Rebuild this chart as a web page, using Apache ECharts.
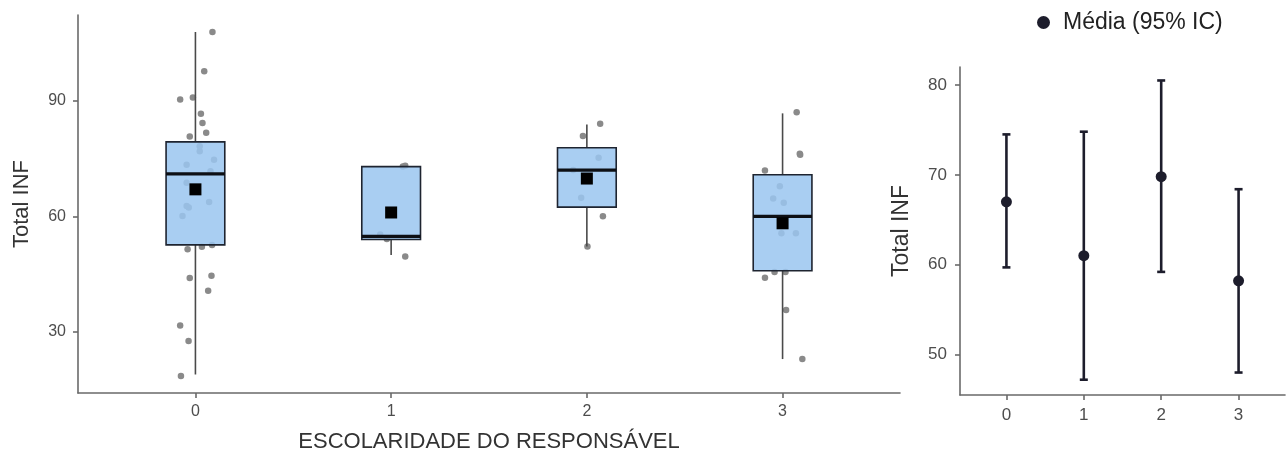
<!DOCTYPE html>
<html>
<head>
<meta charset="utf-8">
<script src="https://cdn.jsdelivr.net/npm/echarts@6/dist/echarts.min.js"></script>
<style>
html,body{margin:0;padding:0;background:#fff;}
#chart{width:1287px;height:458px;}
</style>
</head>
<body>
<div id="chart"></div>
<script>
// ---- data ----
const categories = [0, 1, 2, 3];
const categoryLabels = ['0', '1', '2', '3'];
const boxMin    = [19.0, 50.0, 52.2, 23.0];
const boxQ1     = [52.6, 54.0, 62.4, 45.9];
const boxMedian = [71.0, 54.8, 72.0, 60.0];
const boxQ3     = [79.3, 72.9, 77.8, 70.8];
const boxMax    = [107.8, 72.9, 83.8, 86.7];
const means     = [67.0, 61.0, 69.8, 58.2];
const ciLow     = [59.7, 47.2, 59.2, 48.0];
const ciHigh    = [74.5, 74.8, 80.5, 68.4];
// jittered raw observations: group, value, horizontal jitter (category units)
const jitterGroup  = [0,0,0,0,0,0,0,0,0,0,0,0,0,0,0,0,0,0,0,0,0,0,0,0,0,0,0,
                      1,1,1,1,1,
                      2,2,2,2,2,2,2,
                      3,3,3,3,3,3,3,3,3,3,3,3,3,3];
const jitterValue  = [107.8,97.6,90.3,90.8,86.6,84.2,81.7,80.7,78.2,76.9,73.4,74.7,71.7,68.7,62.7,63.7,60.1,62.3,51.5,52.1,52.6,44.0,44.6,40.7,31.7,27.7,18.6,
                      73.1,72.9,55.3,54.1,49.6,
                      84.0,80.8,75.2,72.0,64.8,60.0,52.2,
                      87.0,76.0,76.2,71.9,67.8,64.6,63.5,55.6,55.6,44.1,45.6,45.6,35.7,23.0];
const jitterOffset = [0.087,0.045,-0.078,-0.013,0.028,0.036,0.055,-0.029,0.022,0.022,-0.045,0.095,0.077,-0.045,-0.045,0.070,-0.066,-0.034,-0.040,0.033,0.085,-0.029,0.082,0.065,-0.078,-0.035,-0.074,
                      0.072,0.060,-0.056,-0.022,0.072,
                      0.068,-0.020,0.060,-0.070,-0.029,0.082,0.003,
                      0.072,0.090,0.088,-0.090,-0.014,-0.048,0.006,-0.006,0.068,-0.090,-0.041,0.015,0.018,0.101];
const leftTicks  = [30, 60, 90];
const rightTicks = [50, 60, 70, 80];

// ---- build series data ----
const boxData = categories.map((c, i) => [c, boxMin[i], boxQ1[i], boxMedian[i], boxQ3[i], boxMax[i]]);
const jitterData = jitterValue.map((v, i) => [jitterGroup[i] + jitterOffset[i], v]);
const meanDataLeft = categories.map((c, i) => [c, means[i]]);
const ciData = categories.map((c, i) => [c, ciLow[i], ciHigh[i]]);
const meanDataRight = categories.map((c, i) => [c, means[i]]);

const FONT = 'Liberation Sans, Arial, sans-serif';
const axisCol = '#6a6a6a';
const halfBox = 0.15;

function renderBox(params, api) {
  const x = api.value(0);
  const pMin = api.coord([x, api.value(1)]);
  const pQ1L = api.coord([x - halfBox, api.value(2)]);
  const pQ3R = api.coord([x + halfBox, api.value(4)]);
  const pMedL = api.coord([x - halfBox, api.value(3)]);
  const pMedR = api.coord([x + halfBox, api.value(3)]);
  const pQ1 = api.coord([x, api.value(2)]);
  const pQ3 = api.coord([x, api.value(4)]);
  const pMax = api.coord([x, api.value(5)]);
  const wStyle = { stroke: '#4a4a4a', lineWidth: 1.6 };
  return {
    type: 'group',
    children: [
      { type: 'line', shape: { x1: pMax[0], y1: pMax[1], x2: pQ3[0], y2: pQ3[1] }, style: wStyle },
      { type: 'line', shape: { x1: pQ1[0], y1: pQ1[1], x2: pMin[0], y2: pMin[1] }, style: wStyle },
      { type: 'rect',
        shape: { x: pQ1L[0], y: pQ3R[1], width: pQ3R[0] - pQ1L[0], height: pQ1L[1] - pQ3R[1] },
        style: { fill: 'rgba(155,198,240,0.86)', stroke: '#1e2430', lineWidth: 1.6 } },
      { type: 'line', shape: { x1: pMedL[0], y1: pMedL[1], x2: pMedR[0], y2: pMedR[1] },
        style: { stroke: '#0d0f14', lineWidth: 3.2 } }
    ]
  };
}

function renderCI(params, api) {
  const x = api.value(0);
  const lo = api.coord([x, api.value(1)]);
  const hi = api.coord([x, api.value(2)]);
  const cap = 4;
  const st = { stroke: '#1d1d2c', lineWidth: 2.6 };
  return {
    type: 'group',
    children: [
      { type: 'line', shape: { x1: lo[0], y1: lo[1], x2: hi[0], y2: hi[1] }, style: st },
      { type: 'line', shape: { x1: lo[0] - cap, y1: lo[1], x2: lo[0] + cap, y2: lo[1] }, style: st },
      { type: 'line', shape: { x1: hi[0] - cap, y1: hi[1], x2: hi[0] + cap, y2: hi[1] }, style: st }
    ]
  };
}

const chart = echarts.init(document.getElementById('chart'), null, { renderer: 'canvas' });
chart.setOption({
  backgroundColor: '#ffffff',
  animation: false,
  textStyle: { fontFamily: FONT },
  legend: {
    data: ['Média (95% IC)'],
    left: 1032, top: 6,
    icon: 'circle', itemWidth: 13, itemHeight: 13,
    itemStyle: { opacity: 1 },
    textStyle: { fontSize: 23, color: '#222', fontFamily: FONT, padding: [0, 0, 0, 8] }
  },
  grid: [
    { left: 78, top: 15, width: 822, height: 379 },
    { left: 960, top: 67, width: 325, height: 328 }
  ],
  xAxis: [
    { gridIndex: 0, type: 'value', min: -0.6, max: 3.6,
      name: 'ESCOLARIDADE DO RESPONSÁVEL', nameLocation: 'middle', nameGap: 38,
      nameTextStyle: { fontSize: 22, color: '#333', fontFamily: FONT },
      axisLine: { show: true, onZero: false, lineStyle: { color: axisCol, width: 1.6 } },
      axisTick: { show: true, length: 5, customValues: categories, lineStyle: { color: axisCol, width: 1.6 } },
      axisLabel: { customValues: categories, formatter: v => categoryLabels[Math.round(v)], fontSize: 16, color: '#4d4d4d', margin: 11 },
      splitLine: { show: false } },
    { gridIndex: 1, type: 'value', min: -0.6, max: 3.6,
      axisLine: { show: true, onZero: false, lineStyle: { color: axisCol, width: 1.6 } },
      axisTick: { show: true, length: 5, customValues: categories, lineStyle: { color: axisCol, width: 1.6 } },
      axisLabel: { customValues: categories, formatter: v => categoryLabels[Math.round(v)], fontSize: 17, color: '#4d4d4d', margin: 12 },
      splitLine: { show: false } }
  ],
  yAxis: [
    { gridIndex: 0, type: 'value', min: 14.2, max: 112.2,
      name: 'Total INF', nameLocation: 'middle', nameGap: 45,
      nameTextStyle: { fontSize: 22, color: '#333', fontFamily: FONT },
      axisLine: { show: true, onZero: false, lineStyle: { color: axisCol, width: 1.6 } },
      axisTick: { show: true, length: 5, customValues: leftTicks, lineStyle: { color: axisCol, width: 1.6 } },
      axisLabel: { customValues: leftTicks, fontSize: 16, color: '#4d4d4d', margin: 12 },
      splitLine: { show: false } },
    { gridIndex: 1, type: 'value', min: 45.5, max: 82,
      name: 'Total INF', nameLocation: 'middle', nameGap: 47,
      nameTextStyle: { fontSize: 23, color: '#333', fontFamily: FONT },
      axisLine: { show: true, onZero: false, lineStyle: { color: axisCol, width: 1.6 } },
      axisTick: { show: true, length: 5, customValues: rightTicks, lineStyle: { color: axisCol, width: 1.6 } },
      axisLabel: { customValues: rightTicks, fontSize: 17, color: '#4d4d4d', margin: 13 },
      splitLine: { show: false } }
  ],
  series: [
    { type: 'scatter', name: 'obs', xAxisIndex: 0, yAxisIndex: 0, data: jitterData,
      symbol: 'circle', symbolSize: 6.5, z: 2, silent: true,
      itemStyle: { color: '#8a8a8a', opacity: 1 } },
    { type: 'custom', name: 'box', xAxisIndex: 0, yAxisIndex: 0, data: boxData,
      renderItem: renderBox, z: 3, silent: true,
      encode: { x: 0, y: [1, 2, 3, 4, 5] } },
    { type: 'scatter', name: 'meanLeft', xAxisIndex: 0, yAxisIndex: 0, data: meanDataLeft,
      symbol: 'rect', symbolSize: 12, z: 5, silent: true,
      itemStyle: { color: '#000', opacity: 1 } },
    { type: 'custom', name: 'ci', xAxisIndex: 1, yAxisIndex: 1, data: ciData,
      renderItem: renderCI, z: 3, silent: true,
      encode: { x: 0, y: [1, 2] } },
    { type: 'scatter', name: 'Média (95% IC)', xAxisIndex: 1, yAxisIndex: 1, data: meanDataRight,
      symbol: 'circle', symbolSize: 11, z: 5, silent: true,
      itemStyle: { color: '#1d1d2c', opacity: 1 } }
  ]
});
</script>
</body>
</html>
